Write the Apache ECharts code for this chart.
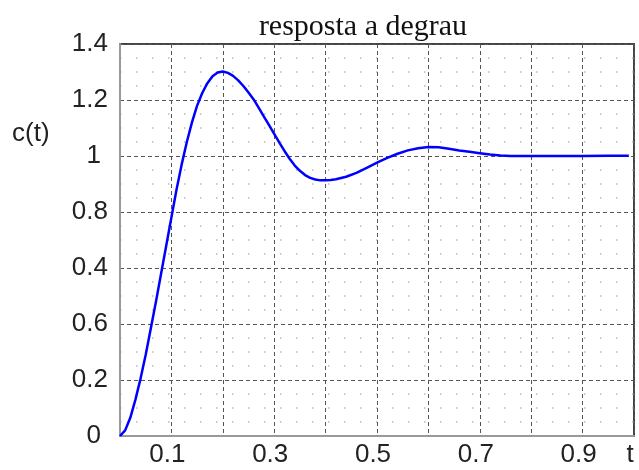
<!DOCTYPE html>
<html><head><meta charset="utf-8">
<script src="https://cdn.jsdelivr.net/npm/echarts@6/dist/echarts.min.js"></script>
<style>html,body{margin:0;padding:0;background:#fff}#c{width:639px;height:470px}</style>
</head><body><div id="c"></div>
<script>
const titleText = 'resposta a degrau';
const yName = 'c(t)';
const tValues = [0,0.01,0.02,0.03,0.04,0.05,0.06,0.07,0.08,0.09,0.10,0.11,0.12,0.13,0.14,0.15,0.16,0.17,0.18,0.19,0.20,0.21,0.22,0.23,0.24,0.25,0.26,0.27,0.28,0.29,0.30,0.31,0.32,0.33,0.34,0.35,0.36,0.37,0.38,0.39,0.40,0.41,0.42,0.44,0.46,0.48,0.50,0.52,0.54,0.56,0.58,0.60,0.62,0.64,0.66,0.68,0.70,0.72,0.74,0.76,0.80,0.85,0.90,0.95,0.99];
const cValues = [0,0.02,0.065,0.13,0.205,0.29,0.385,0.48,0.58,0.68,0.78,0.88,0.97,1.05,1.12,1.18,1.225,1.26,1.285,1.298,1.302,1.297,1.286,1.270,1.250,1.227,1.202,1.172,1.141,1.110,1.079,1.048,1.018,0.990,0.966,0.947,0.932,0.922,0.916,0.913,0.913,0.914,0.917,0.926,0.94,0.958,0.976,0.993,1.008,1.02,1.028,1.032,1.031,1.026,1.02,1.015,1.01,1.005,1.002,1.0,1.0,1.0,1.0,1.001,1.001];
const yTickLabels = ['0','0.2','0.6','0.4','0.8','1','1.2','1.4'];
const xTickLabels = ['','0.1','','0.3','','0.5','','0.7','','0.9','t'];

const chart = echarts.init(document.getElementById('c'), null, {renderer:'canvas'});
const data = tValues.map((t,i)=>[t,cValues[i]]);
const labelFont = {fontFamily:'Liberation Sans, Arial, sans-serif', fontSize:26, color:'#222'};
chart.setOption({
  animation:false,
  backgroundColor:'#fff',
  title:{text:titleText, left:358, textAlign:'center', top:7,
    textStyle:{fontFamily:'Liberation Serif, Times New Roman, serif', fontWeight:'normal', fontSize:30, color:'#111'}},
  graphic:[{type:'text', left:12, top:121, style:{text:yName, font:'26px Liberation Sans, Arial, sans-serif', fill:'#222'}}],
  grid:{left:120, top:44, right:5, bottom:34, show:true, borderColor:'#444', borderWidth:2, backgroundColor:'transparent'},
  xAxis:{type:'value', min:0, max:1, interval:0.1,
    axisLine:{show:true, onZero:false, lineStyle:{color:'#999', width:2}},
    axisTick:{show:false},
    minorTick:{show:false, splitNumber:3},
    minorSplitLine:{show:false},
    splitLine:{show:true, lineStyle:{color:'#555', width:1, type:[4,3]}},
    axisLabel:Object.assign({showMaxLabel:true, showMinLabel:true, margin:6, padding:[0,8,0,0],
      formatter:(v)=>xTickLabels[Math.round(v/0.1)]}, labelFont)
  },
  yAxis:{type:'value', min:0, max:1.4, interval:0.2,
    axisLine:{show:true, onZero:false, lineStyle:{color:'#999', width:2}},
    axisTick:{show:false},
    minorTick:{show:false, splitNumber:4},
    minorSplitLine:{show:true, lineStyle:{color:'#bbb', width:1.5, type:[1.5,14.5]}},
    splitLine:{show:true, lineStyle:{color:'#555', width:1, type:[4,3]}},
    axisLabel:Object.assign({margin:12, showMaxLabel:true,
      formatter:(v)=>{const s=yTickLabels[Math.round(v/0.2)]; return s.length===1?'{n|'+s+'}':s;},
      rich:{n:{fontFamily:'Liberation Sans, Arial, sans-serif', fontSize:26, color:'#222', padding:[0,7,0,0]}}}, labelFont)
  },
  series:[{type:'line', data:data, showSymbol:false, smooth:false,
    lineStyle:{color:'#0000ff', width:2.5}, itemStyle:{color:'#0000ff'}}]
});
</script></body></html>
